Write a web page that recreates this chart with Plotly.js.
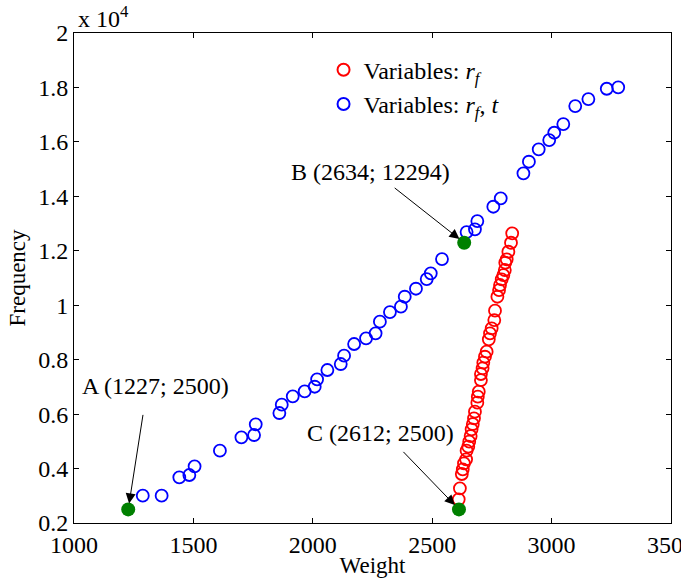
<!DOCTYPE html>
<html>
<head>
<meta charset="utf-8">
<script src="https://cdn.plot.ly/plotly-3.0.1.min.js"></script>
<style>html,body{margin:0;padding:0;background:#fff;}#chart{width:681px;height:585px;}</style>
</head>
<body>
<div id="chart"></div>
<script>
// Series 1: Variables r_f (red)
const redWeight = [2835,2830,2819,2812,2806,2804,2798,2791,2784,2780,2773,2763,2760,2749,2742,2737,2728,2721,2714,2711,2704,2704,2695,2691,2689,2679,2675,2670,2665,2661,2655,2651,2644,2642,2633,2628,2624,2616,2611];
const redFreq   = [12641,12295,11965,11686,11561,11293,11109,10951,10742,10558,10312,9798,9456,9151,8968,8747,8292,8108,7888,7682,7473,7252,6823,6639,6419,6088,5846,5636,5442,5196,4986,4802,4656,4340,4193,3972,3800,3275,2870];

// Series 2: Variables r_f, t (blue)
const blueWeight = [1288,1367,1441,1483,1505,1611,1701,1754,1761,1860,1870,1916,1966,2008,2018,2061,2117,2131,2173,2223,2263,2281,2323,2369,2385,2432,2477,2494,2541,2644,2679,2689,2756,2787,2882,2905,2946,2990,3011,3049,3099,3154,3231,3279];
const blueFreq   = [3003,3003,3679,3763,4083,4656,5148,5232,5625,6040,6345,6654,6837,7006,7278,7620,7840,8145,8575,8784,8968,9394,9750,9945,10312,10606,10962,11171,11697,12688,12788,13092,13618,13926,14844,15271,15726,16068,16336,16655,17316,17573,17952,18003];

// Highlighted points
const specialLabels = ['A', 'B', 'C'];
const specialWeight = [1227, 2634, 2612];
const specialFreq   = [2500, 12294, 2500];

// Axis ticks
const xTicks = [1000, 1500, 2000, 2500, 3000, 3500];
const yTicks = [2000, 4000, 6000, 8000, 10000, 12000, 14000, 16000, 18000, 20000];
const yTickText = ['0.2', '0.4', '0.6', '0.8', '1', '1.2', '1.4', '1.6', '1.8', '2'];

const FONT = 'Liberation Serif, Times New Roman, serif';
const FS = 23;

const traces = [
  {
    x: redWeight, y: redFreq, type: 'scatter', mode: 'markers',
    name: 'Variables: <i>r</i><sub><i>f</i></sub>',
    marker: {symbol: 'circle-open', size: 12, color: 'rgb(255,0,0)', line: {width: 1.8, color: 'rgb(255,0,0)'}}
  },
  {
    x: blueWeight, y: blueFreq, type: 'scatter', mode: 'markers',
    name: 'Variables: <i>r</i><sub><i>f</i></sub>, <i>t</i>',
    marker: {symbol: 'circle-open', size: 12, color: 'rgb(0,0,255)', line: {width: 1.8, color: 'rgb(0,0,255)'}}
  },
  {
    x: specialWeight, y: specialFreq, type: 'scatter', mode: 'markers',
    showlegend: false,
    marker: {symbol: 'circle', size: 14, color: 'rgb(0,128,0)'}
  }
];

// annotation text placement (paper) and arrow tail offsets (px)
const labelPos = [[0.137, 0.28], [0.496, 0.716], [0.513, 0.184]];
const arrowOff = [[15, -96], [-71, -56], [-57, -59]];

const annotations = [];
for (let i = 0; i < specialLabels.length; i++) {
  annotations.push({
    xref: 'paper', yref: 'paper', x: labelPos[i][0], y: labelPos[i][1],
    text: specialLabels[i] + ' (' + specialWeight[i] + '; ' + specialFreq[i] + ')',
    showarrow: false, font: {family: FONT, size: 24, color: '#000'},
    xanchor: 'center', yanchor: 'middle'
  });
  annotations.push({
    xref: 'x', yref: 'y', x: specialWeight[i], y: specialFreq[i],
    text: '', showarrow: true, ax: arrowOff[i][0], ay: arrowOff[i][1],
    arrowhead: 2, arrowsize: 2, arrowwidth: 1, arrowcolor: '#000', standoff: 6
  });
}
annotations.push({
  xref: 'paper', yref: 'paper', x: 0.004, y: 0.998, xanchor: 'left', yanchor: 'bottom',
  text: 'x 10<sup>4</sup>', showarrow: false, font: {family: FONT, size: 24, color: '#000'}
});

const axisCommon = {
  showline: true, linecolor: '#000', linewidth: 1, mirror: 'ticks',
  ticks: 'inside', ticklen: 5, tickwidth: 1, tickcolor: '#000',
  showgrid: false, zeroline: false, ticklabeloverflow: 'allow',
  tickfont: {family: FONT, size: 24, color: '#000'}
};

const layout = {
  width: 681, height: 585,
  margin: {l: 74, r: 10, t: 33, b: 62},
  paper_bgcolor: '#fff', plot_bgcolor: '#fff',
  font: {family: FONT, size: FS, color: '#000'},
  xaxis: Object.assign({}, axisCommon, {
    range: [1000, 3500], tickvals: xTicks, ticktext: xTicks.map(String),
    title: {text: 'Weight', font: {family: FONT, size: FS, color: '#000'}, standoff: 0}
  }),
  yaxis: Object.assign({}, axisCommon, {
    range: [2000, 20000], tickvals: yTicks, ticktext: yTickText,
    title: {text: 'Frequency', font: {family: FONT, size: FS, color: '#000'}, standoff: 6}
  }),
  showlegend: true,
  legend: {
    x: 0.418, y: 0.97, xanchor: 'left', yanchor: 'top',
    bgcolor: 'rgba(0,0,0,0)', borderwidth: 0,
    font: {family: FONT, size: 24, color: '#000'},
    itemsizing: 'constant'
  },
  annotations: annotations
};

Plotly.newPlot('chart', traces, layout, {displayModeBar: false, staticPlot: true});
</script>
</body>
</html>
